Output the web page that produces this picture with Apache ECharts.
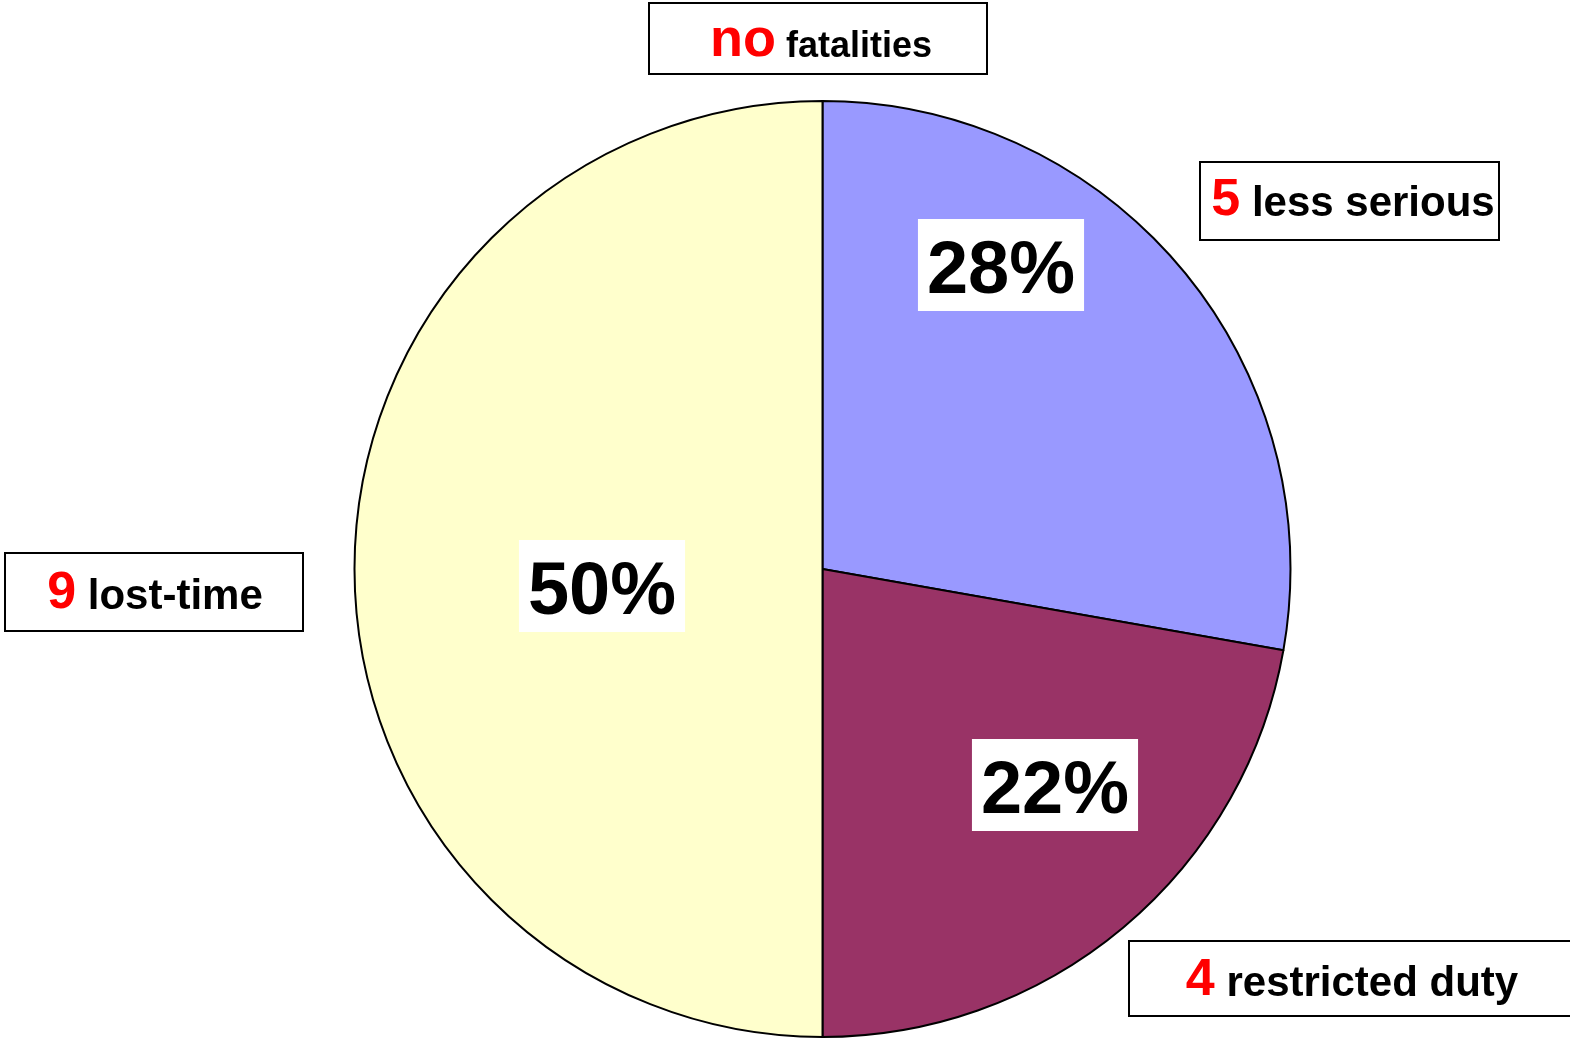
<!DOCTYPE html>
<html>
<head>
<meta charset="utf-8">
<script src="https://cdn.jsdelivr.net/npm/echarts@6/dist/echarts.min.js"></script>
<style>
  html, body { margin: 0; padding: 0; background: #fff; }
  #chart { width: 1570px; height: 1041px; }
</style>
</head>
<body>
<div id="chart"></div>
<script>
// ---- data ----
const categories = ['less serious', 'restricted duty', 'lost-time'];
const counts = [5, 4, 9];
const fatalityWord = 'no';
const fatalityLabel = 'fatalities';
const sliceColors = ['#9999FF', '#993366', '#FFFFCC'];

// ---- layout (screen positions, not data) ----
const FONT = '"Liberation Sans", Arial, sans-serif';
const pctPos = [[1001, 265], [1055, 785], [602, 586]];
const calloutBoxes = [
  { x: 1200, y: 162, w: 299, h: 78, tx: 1353, ty: 201 },   // less serious
  { x: 1129, y: 941, w: 460, h: 75, tx: 1352, ty: 981 },   // restricted duty
  { x: 5,    y: 553, w: 298, h: 78, tx: 155,  ty: 594 }    // lost-time
];
const fatalBox = { x: 649, y: 3, w: 338, h: 71, tx: 821, ty: 41 };

const chart = echarts.init(document.getElementById('chart'));

const graphics = [];
categories.forEach((name, i) => {
  const b = calloutBoxes[i];
  graphics.push({
    type: 'rect',
    shape: { x: b.x, y: b.y, width: b.w, height: b.h },
    style: { fill: '#fff', stroke: '#000', lineWidth: 2 },
    z: 10
  });
  graphics.push({
    type: 'text',
    x: b.tx, y: b.ty,
    style: {
      text: '{n|' + counts[i] + '}{t| ' + name + '}',
      align: 'center',
      verticalAlign: 'middle',
      rich: {
        n: { fontFamily: FONT, fontWeight: 'bold', fontSize: 52, lineHeight: 56, fill: '#ff0000' },
        t: { fontFamily: FONT, fontWeight: 'bold', fontSize: 42, lineHeight: 48, fill: '#000', padding: [7, 0, 0, 0] }
      }
    },
    z: 11
  });
});
graphics.push({
  type: 'rect',
  shape: { x: fatalBox.x, y: fatalBox.y, width: fatalBox.w, height: fatalBox.h },
  style: { fill: '#fff', stroke: '#000', lineWidth: 2 },
  z: 10
});
graphics.push({
  type: 'text',
  x: fatalBox.tx, y: fatalBox.ty,
  style: {
    text: '{n|' + fatalityWord + '}{t| ' + fatalityLabel + '}',
    align: 'center',
    verticalAlign: 'middle',
    rich: {
      n: { fontFamily: FONT, fontWeight: 'bold', fontSize: 54, lineHeight: 58, fill: '#ff0000' },
      t: { fontFamily: FONT, fontWeight: 'bold', fontSize: 36, lineHeight: 40, fill: '#000', padding: [12, 0, 0, 0] }
    }
  },
  z: 11
});

chart.setOption({
  animation: false,
  backgroundColor: '#fff',
  graphic: graphics,
  series: [{
    type: 'pie',
    center: [822.5, 569],
    radius: 468,
    startAngle: 90,
    clockwise: true,
    percentPrecision: 0,
    silent: true,
    data: categories.map((name, i) => ({
      name: name,
      value: counts[i],
      itemStyle: { color: sliceColors[i] }
    })),
    itemStyle: { borderColor: '#000', borderWidth: 2 },
    label: {
      show: true,
      position: 'inside',
      formatter: '{p|{d}%}',
      backgroundColor: '#fff',
      padding: [8, 9, 8, 9],
      rich: {
        p: {
          fontFamily: FONT,
          fontWeight: 'bold',
          fontSize: 74,
          lineHeight: 76,
          color: '#000',
          padding: [16, 0, 0, 0]
        }
      }
    },
    labelLine: { show: false },
    labelLayout: function (params) {
      const p = pctPos[params.dataIndex];
      return { x: p[0], y: p[1], align: 'center', verticalAlign: 'middle' };
    }
  }]
});
</script>
</body>
</html>
